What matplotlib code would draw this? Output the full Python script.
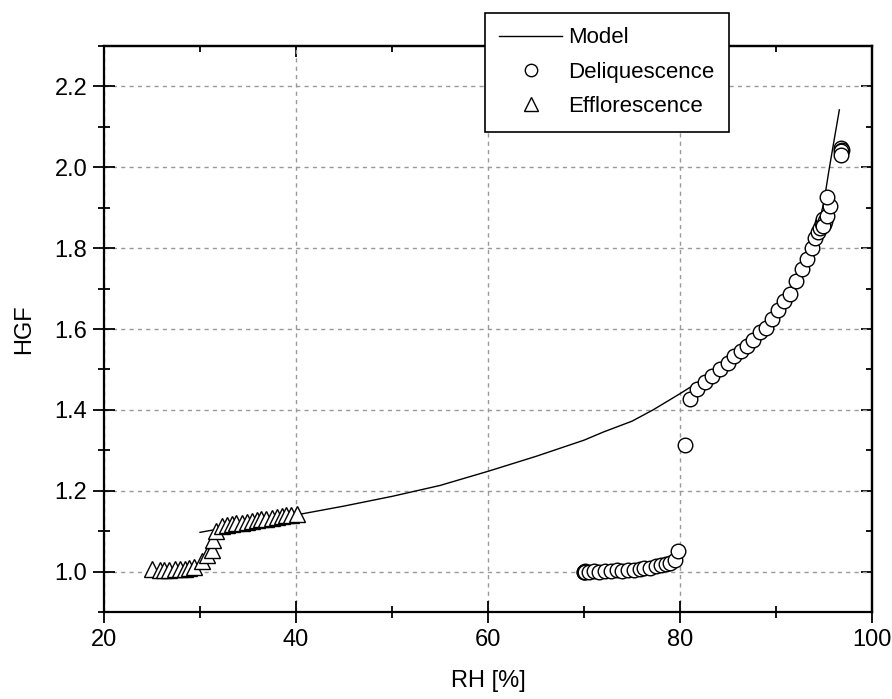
# Hygroscopic growth factor vs relative humidity
import numpy as np
import matplotlib
matplotlib.use('Agg')
import matplotlib.pyplot as plt
from matplotlib.ticker import MultipleLocator, FormatStrFormatter

plt.rcParams['font.family'] = ['Liberation Sans', 'DejaVu Sans']

# Model curve
model_rh = [30.0, 33.0, 36.0, 40.0, 45.0, 50.0, 55.0, 60.0, 65.0, 70.0, 72.0, 75.0, 77.2,
            80.0, 82.0, 84.0, 86.0, 88.0, 90.0, 91.0, 92.0, 93.0, 94.0, 94.5, 95.0,
            95.5, 96.0, 96.6]
model_hgf = [1.097, 1.110, 1.122, 1.140, 1.162, 1.186, 1.213, 1.248, 1.285, 1.325, 1.345, 1.372, 1.400,
             1.440, 1.470, 1.505, 1.545, 1.592, 1.648, 1.680, 1.720, 1.768, 1.825, 1.865, 1.915,
             1.990, 2.060, 2.142]

# Deliquescence (circles)
deli_rh = [70.0, 70.05, 70.1, 70.15, 70.5, 71.0, 71.6, 72.2, 72.8, 73.4, 74.0, 74.6,
           75.2, 75.8, 76.3, 76.9, 77.5, 78.0, 78.5, 79.0, 79.5, 79.8,
           80.5, 81.0, 81.8, 82.6, 83.3, 84.2, 85.0, 85.6, 86.4, 87.0, 87.6, 88.3,
           89.0, 89.6, 90.2, 90.8, 91.5, 92.1, 92.7, 93.2, 93.7, 94.1, 94.4, 94.6,
           94.8, 94.9, 95.0, 95.1, 94.9, 95.3, 95.6, 95.3,
           96.8, 96.85, 96.8, 96.75]
deli_hgf = [1.000, 0.998, 1.001, 0.999, 1.000, 1.001, 1.000, 1.002, 1.001, 1.003, 1.002, 1.004,
            1.005, 1.006, 1.008, 1.010, 1.013, 1.016, 1.019, 1.022, 1.028, 1.050,
            1.314, 1.427, 1.452, 1.469, 1.483, 1.502, 1.515, 1.533, 1.545, 1.558, 1.574, 1.592,
            1.603, 1.625, 1.648, 1.669, 1.686, 1.719, 1.748, 1.772, 1.801, 1.826, 1.840, 1.851,
            1.863, 1.873, 1.860, 1.868, 1.855, 1.880, 1.904, 1.927,
            2.047, 2.043, 2.040, 2.030]

# Efflorescence (triangles)
efflo_rh = [25.0, 25.8, 26.3, 26.8, 27.4, 27.9, 28.4, 28.9, 29.4, 30.2, 30.7, 31.2, 31.4,
            31.7, 32.3, 32.8, 33.3, 33.8, 34.4, 34.9, 35.4, 35.9, 36.4, 36.9, 37.5, 38.0,
            38.5, 39.0, 39.5, 40.1]
efflo_hgf = [1.006, 1.005, 1.005, 1.005, 1.006, 1.006, 1.007, 1.008, 1.012, 1.026, 1.042, 1.054, 1.079,
             1.100, 1.112, 1.114, 1.117, 1.119, 1.121, 1.123, 1.125, 1.127, 1.129, 1.131, 1.133, 1.135,
             1.137, 1.139, 1.141, 1.143]

fig = plt.figure(figsize=(8.92, 6.99), dpi=100)
ax = fig.add_axes([104 / 892, 87 / 699, 768 / 892, 566 / 699])

ax.plot(model_rh, model_hgf, color='black', linewidth=1.0, label='Model', zorder=3)
ax.plot(deli_rh, deli_hgf, linestyle='none', marker='o', markersize=10.5,
        markerfacecolor='white', markeredgecolor='black', markeredgewidth=1.0,
        label='Deliquescence', zorder=4)
ax.plot(efflo_rh, efflo_hgf, linestyle='none', marker='^', markersize=11.5,
        markerfacecolor='white', markeredgecolor='black', markeredgewidth=1.0,
        label='Efflorescence', zorder=4)

ax.set_xlim(20, 100)
ax.set_ylim(0.9, 2.3)
ax.xaxis.set_major_locator(MultipleLocator(20))
ax.xaxis.set_minor_locator(MultipleLocator(10))
ax.yaxis.set_major_locator(MultipleLocator(0.2))
ax.yaxis.set_minor_locator(MultipleLocator(0.1))
ax.yaxis.set_major_formatter(FormatStrFormatter('%.1f'))

ax.grid(True, which='major', color='#999999', linestyle=(0, (3, 3)), linewidth=1.0)
ax.set_axisbelow(True)

for s in ax.spines.values():
    s.set_linewidth(1.6)

# bottom / left: ticks crossing the axis
ax.tick_params(which='major', direction='inout', length=16, width=1.3, labelsize=17, pad=4)
ax.tick_params(which='minor', direction='inout', length=8, width=1.3)
ax.tick_params(which='both', top=False, right=False)

# top / right: short inward ticks, no labels
top = ax.secondary_xaxis('top')
top.xaxis.set_major_locator(MultipleLocator(20))
top.xaxis.set_minor_locator(MultipleLocator(10))
top.tick_params(which='major', direction='in', length=8, width=1.3, labeltop=False)
top.tick_params(which='minor', direction='in', length=4, width=1.3)
top.spines['top'].set_linewidth(1.6)
right = ax.secondary_yaxis('right')
right.yaxis.set_major_locator(MultipleLocator(0.2))
right.yaxis.set_minor_locator(MultipleLocator(0.1))
right.tick_params(which='major', direction='in', length=8, width=1.3, labelright=False)
right.tick_params(which='minor', direction='in', length=4, width=1.3)
right.spines['right'].set_linewidth(1.6)

ax.set_xlabel('RH [%]', fontsize=17, labelpad=14)
ax.set_ylabel('HGF', fontsize=17, labelpad=14)

leg = ax.legend(loc='upper left', bbox_to_anchor=(485 / 892, 1 - 13 / 699),
                bbox_transform=fig.transFigure, borderaxespad=0, fontsize=16,
                fancybox=False, framealpha=1, edgecolor='black', handlelength=2.8,
                handletextpad=0.3, labelspacing=0.6, borderpad=0.65, markerscale=0.85)
leg.get_frame().set_linewidth(1.2)
leg.set_zorder(10)

fig.savefig('out.png', dpi=100)
